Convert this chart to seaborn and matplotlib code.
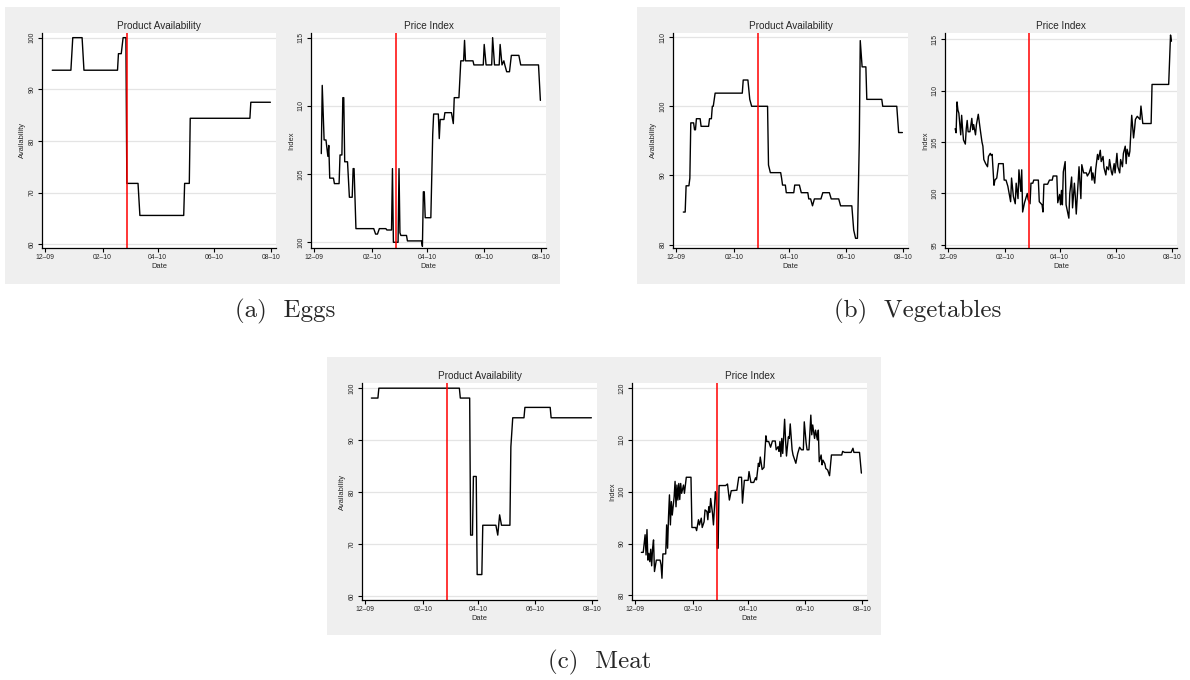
import matplotlib
matplotlib.use("Agg")
import matplotlib.pyplot as plt
from matplotlib.patches import Rectangle
import seaborn as sns
import numpy as np
import pandas as pd

# days are counted from 2009-12-01 (daily series)
start_date = '2009-12-01'
quake_day = 88   # 27 feb 2010

tick_dates = ['2009-12-01', '2010-02-01', '2010-04-01', '2010-06-01', '2010-08-01']
tick_labels = ['12–09', '02–10', '04–10', '06–10', '08–10']

# (a) huevos
eggs_avail_day = [8, 28, 30, 40, 42, 78, 79, 82, 84, 87, 88, 100, 102, 149, 150, 155, 156, 220, 221, 242]
eggs_avail_val = [93.7, 93.7, 100, 100, 93.7, 93.7, 96.9, 96.9, 100, 100, 71.8, 71.8, 65.6, 65.6,
                  71.8, 71.8, 84.4, 84.4, 87.5, 87.5]

eggs_price_day = [8, 9, 11, 13, 15, 16, 17, 21, 22, 27, 28, 30, 31, 32, 33, 36, 38, 41, 42, 43,
                  45, 61, 64, 66, 68, 70, 77, 78, 83, 84, 85, 90, 91, 92, 93, 99, 100, 115, 116, 117,
                  118, 119, 125, 127, 128, 133, 134, 135, 139, 140, 147, 149, 150, 155, 157, 160, 161, 162, 170, 171,
                  181, 182, 184, 190, 191, 193, 198, 199, 201, 203, 204, 206, 209, 211, 219, 221, 240, 242]
eggs_price_val = [106.5, 111.5, 107.5, 107.5, 106.3, 107.1, 104.7, 104.7, 104.3, 104.3, 106.4, 106.4, 110.6, 110.6,
                  105.9, 105.9, 103.3, 103.3, 105.4, 105.4,
                  101.0, 101.0, 101.0, 100.6, 100.6, 101.0, 101.0, 100.9, 100.9, 105.4, 100.0, 100.0, 105.4, 100.7,
                  100.5, 100.5, 100.1, 100.1, 99.7, 103.7,
                  103.7, 101.8, 101.8, 107.9, 109.4, 109.4, 107.6, 109.0, 109.0, 109.5, 109.5, 108.7, 110.6, 110.6,
                  113.3, 113.3, 114.8, 113.3, 113.3, 113.0,
                  113.0, 114.5, 113.0, 113.0, 115.0, 113.0, 113.0, 114.5, 113.0, 113.3, 113.0, 112.5, 112.5, 113.7,
                  113.7, 113.0, 113.0, 110.4]

# (b) verduras
veg_avail_day = [8, 10, 11, 14, 15, 16, 19, 20, 21, 22, 26, 27, 35, 36, 38, 39, 40, 42, 71, 72,
                 77, 79, 81, 98, 99, 101, 112, 113, 114, 117, 118, 126, 127, 132, 134, 141, 142, 144, 146, 148,
                 155, 157, 164, 166, 174, 176, 188, 190, 192, 194, 196, 197, 199, 203, 204, 220, 221, 236, 238, 242]
veg_avail_val = [84.7, 84.7, 88.5, 88.5, 89.6, 97.6, 97.6, 96.6, 96.6, 98.2, 98.2, 97.1, 97.1, 98.2, 98.2,
                 100.0, 100.0, 101.9, 101.9, 103.8,
                 103.8, 101.0, 100.0, 100.0, 91.5, 90.4, 90.4, 89.6, 88.6, 88.6, 87.5, 87.5, 88.6, 88.6, 87.5,
                 87.5, 86.6, 86.6, 85.6, 86.6,
                 86.6, 87.5, 87.5, 86.6, 86.6, 85.6, 85.6, 82.1, 80.9, 80.9, 95.1, 109.5, 105.7, 105.7, 101.0,
                 101.0, 100.0, 100.0, 96.2, 96.2]

veg_price_day = [8, 9, 10, 11, 12, 14, 15, 16, 17, 18, 19, 20, 21, 22, 24, 26, 27, 28, 30, 31,
                 33, 35, 37, 38, 39, 41, 43, 44, 46, 47, 48, 50, 51, 53, 55, 60, 61, 63, 65, 66,
                 68, 69, 71, 73, 74, 76, 77, 79, 80, 81, 83, 84, 86, 87, 89, 90, 92, 93, 98, 99,
                 102, 103, 104, 108, 110, 113, 114, 118, 119, 121, 122, 123, 124, 125, 127, 128, 131, 132, 134, 135,
                 137, 138, 139, 141, 142, 144, 145, 147, 150, 151, 153, 155, 156, 157, 159, 160, 162, 163, 165, 166,
                 168, 169, 171, 172, 174, 175, 177, 178, 180, 181, 183, 184, 186, 187, 189, 190, 192, 193, 194, 196,
                 197, 199, 201, 202, 203, 205, 206, 208, 209, 211, 220, 221, 239, 241, 242]
veg_price_val = [106.3, 105.9, 108.9, 108.1, 107.8, 105.7, 107.6, 106.3, 105.2, 105.0, 104.8, 106.3, 107.1,
                 106.0, 106.0, 107.3, 106.2, 106.7, 105.7, 106.7,
                 107.7, 106.3, 105.0, 104.6, 103.3, 102.9, 102.6, 103.6, 103.9, 103.7, 103.8, 100.8, 101.3,
                 101.5, 102.9, 102.9, 101.3, 101.3, 100.7, 100.2,
                 99.2, 101.5, 99.7, 99.0, 101.0, 99.5, 102.3, 100.2, 102.3, 98.2, 99.1, 99.4, 100.0, 99.4,
                 99.0, 101.0, 101.0, 101.3, 101.3, 99.2,
                 98.9, 98.2, 100.9, 100.9, 101.3, 101.3, 101.7, 101.7, 99.1, 99.9, 98.9, 100.3, 98.9, 102.1,
                 103.1, 98.9, 97.6, 100.0, 101.6, 98.6,
                 101.0, 99.7, 98.0, 101.0, 102.6, 99.5, 102.8, 102.0, 102.0, 101.7, 102.0, 102.6, 101.3, 102.0,
                 101.0, 102.3, 103.8, 103.3, 104.2, 103.1,
                 103.6, 102.5, 101.8, 102.6, 102.3, 103.3, 102.1, 101.8, 102.9, 102.0, 103.9, 102.6, 102.0,
                 103.3, 102.6, 103.9, 104.6, 102.9, 104.3, 103.6,
                 104.1, 107.6, 105.4, 106.2, 107.2, 107.5, 107.4, 107.2, 108.5, 106.8, 106.8, 110.6, 110.6,
                 115.4, 114.8]

# (c) carne
meat_avail_day = [7, 14, 15, 101, 102, 112, 113, 115, 116, 119, 120, 125, 126, 140, 142, 144, 146, 155, 156, 158,
                  170, 171, 198, 199, 242]
meat_avail_val = [98.1, 98.1, 100.0, 100.0, 98.1, 98.1, 71.7, 71.7, 83.0, 83.0, 64.1, 64.1, 73.6, 73.6, 71.7,
                  75.6, 73.6, 73.6, 88.7, 94.3,
                  94.3, 96.3, 96.3, 94.3, 94.3]

meat_price_day = [7, 9, 11, 12, 13, 14, 15, 16, 17, 18, 19, 20, 21, 23, 27, 28, 29, 30, 33, 34,
                  35, 36, 37, 38, 39, 40, 42, 43, 44, 45, 46, 47, 48, 49, 50, 52, 53, 55, 60, 61,
                  65, 66, 68, 69, 71, 72, 74, 75, 77, 78, 79, 80, 81, 83, 84, 86, 87, 88, 89, 90,
                  97, 99, 101, 103, 109, 111, 114, 115, 117, 121, 122, 124, 127, 129, 130, 132, 133, 134, 136, 138,
                  140, 141, 143, 145, 147, 150, 151, 153, 154, 155, 156, 157, 158, 160, 161, 162, 164, 165, 166, 168,
                  169, 172, 174, 176, 178, 180, 181, 183, 184, 186, 188, 189, 190, 192, 193, 195, 196, 197, 199, 200,
                  201, 203, 204, 206, 208, 210, 221, 222, 224, 231, 233, 234, 240, 242]
meat_price_val = [88.3, 88.3, 91.7, 87.8, 92.7, 86.8, 88.1, 86.5, 88.9, 85.7, 89.1, 90.7, 84.6, 86.8, 86.8,
                  85.9, 83.3, 88.0, 88.0, 93.6,
                  89.1, 95.2, 99.4, 93.6, 98.1, 95.5, 99.0, 102.0, 97.1, 101.3, 98.4, 101.6, 98.5, 101.6, 99.7,
                  101.3, 99.7, 102.8, 102.8, 93.1,
                  93.1, 92.5, 94.6, 93.6, 94.9, 93.1, 94.2, 96.5, 96.2, 94.6, 97.1, 96.0, 98.7, 95.8, 93.6,
                  100.0, 99.7, 89.1, 89.1, 101.2,
                  101.2, 101.5, 98.4, 100.2, 100.3, 102.8, 102.8, 97.8, 102.2, 102.2, 103.9, 101.8, 101.8, 102.7,
                  102.3, 105.5, 104.9, 106.7, 104.3, 104.7,
                  110.8, 109.7, 109.7, 108.6, 109.8, 109.8, 108.1, 108.7, 107.8, 109.7, 106.8, 110.3, 107.4,
                  114.0, 110.0, 106.9, 110.6, 110.3, 113.1, 108.1,
                  107.1, 105.5, 107.4, 108.6, 108.1, 108.1, 113.5, 109.4, 108.1, 108.1, 114.8, 111.0, 112.9,
                  110.3, 111.9, 110.0, 111.9, 105.8, 107.1, 105.2,
                  106.1, 105.4, 104.5, 104.2, 103.1, 107.1, 107.1, 107.8, 107.6, 107.6, 108.4, 107.6, 107.6, 103.6]

# ---- layout (pixels of a 1190x680 canvas) ----
W, H = 1190, 680
panel_boxes = [(5, 560, 7, 284), (637, 1185, 7, 284), (327, 881, 357, 635)]
captions = [('(a)  Eggs', 285, 311), ('(b)  Vegetables', 918, 311), ('(c)  Meat', 600, 662)]

plots = [
    # axes box, days, values, title, ylabel, yticks, ylim
    ((42, 276, 33, 248), eggs_avail_day, eggs_avail_val, 'Product Availability', 'Availability',
     [60, 70, 80, 90, 100], (59.3, 100.9)),
    ((311, 546, 33, 248), eggs_price_day, eggs_price_val, 'Price Index', 'Index',
     [100, 105, 110, 115], (99.58, 115.34)),
    ((673, 908, 33, 248), veg_avail_day, veg_avail_val, 'Product Availability', 'Availability',
     [80, 90, 100, 110], (79.5, 110.6)),
    ((945, 1177, 33, 248), veg_price_day, veg_price_val, 'Price Index', 'Index',
     [95, 100, 105, 110, 115], (94.7, 115.6)),
    ((362, 597, 383, 600), meat_avail_day, meat_avail_val, 'Product Availability', 'Availability',
     [60, 70, 80, 90, 100], (59.2, 101.0)),
    ((632, 867, 383, 600), meat_price_day, meat_price_val, 'Price Index', 'Index',
     [80, 90, 100, 110, 120], (79.1, 121.0)),
]

sns.set_style('white')
plt.rcParams['font.family'] = ['Liberation Sans', 'DejaVu Sans']

fig = plt.figure(figsize=(W / 100, H / 100), dpi=100)

for x0, x1, y0, y1 in panel_boxes:
    fig.add_artist(Rectangle((x0 / W, 1 - y1 / H), (x1 - x0) / W, (y1 - y0) / H,
                             transform=fig.transFigure, facecolor='#efefef',
                             edgecolor='none', zorder=-5))

base = pd.Timestamp(start_date)
quake = base + pd.Timedelta(days=quake_day)
xticks = pd.to_datetime(tick_dates)

for (x0, x1, y0, y1), day, val, title, ylab, yticks, ylim in plots:
    ax = fig.add_axes([x0 / W, 1 - y1 / H, (x1 - x0) / W, (y1 - y0) / H])
    df = pd.DataFrame({'Date': base + pd.to_timedelta(day, unit='D'), 'value': val})
    ax.set_facecolor('white')
    sns.lineplot(data=df, x='Date', y='value', estimator=None, sort=False,
                 color='black', lw=1.0, ax=ax)
    ax.axvline(quake, color='red', lw=1.1)
    ax.set_xlim(base - pd.Timedelta(days=3), base + pd.Timedelta(days=248))
    ax.set_ylim(*ylim)
    ax.set_xticks(xticks)
    ax.set_xticklabels(tick_labels)
    ax.set_yticks(yticks)
    ax.grid(axis='y', color='#e4e4e4', lw=0.9)
    ax.set_axisbelow(True)
    for s in ['top', 'right']:
        ax.spines[s].set_visible(False)
    for s in ['left', 'bottom']:
        ax.spines[s].set_color('black')
        ax.spines[s].set_linewidth(0.9)
    ax.tick_params(axis='both', direction='out', length=3, width=0.8, color='black',
                   labelsize=4.9, pad=1.5, bottom=True, left=True)
    ax.tick_params(axis='y', labelrotation=90)
    for lbl in ax.get_yticklabels():
        lbl.set_va('center')
    ax.set_xlabel('Date', fontsize=5.4, labelpad=1)
    ax.set_ylabel(ylab, fontsize=5.4, labelpad=2)
    ax.set_title(title, fontsize=7.2, pad=3)

for text, cx, cy in captions:
    fig.text(cx / W, 1 - cy / H, text, family='cmr10', fontsize=18, ha='center', va='center')

fig.savefig('out.png', dpi=100)
